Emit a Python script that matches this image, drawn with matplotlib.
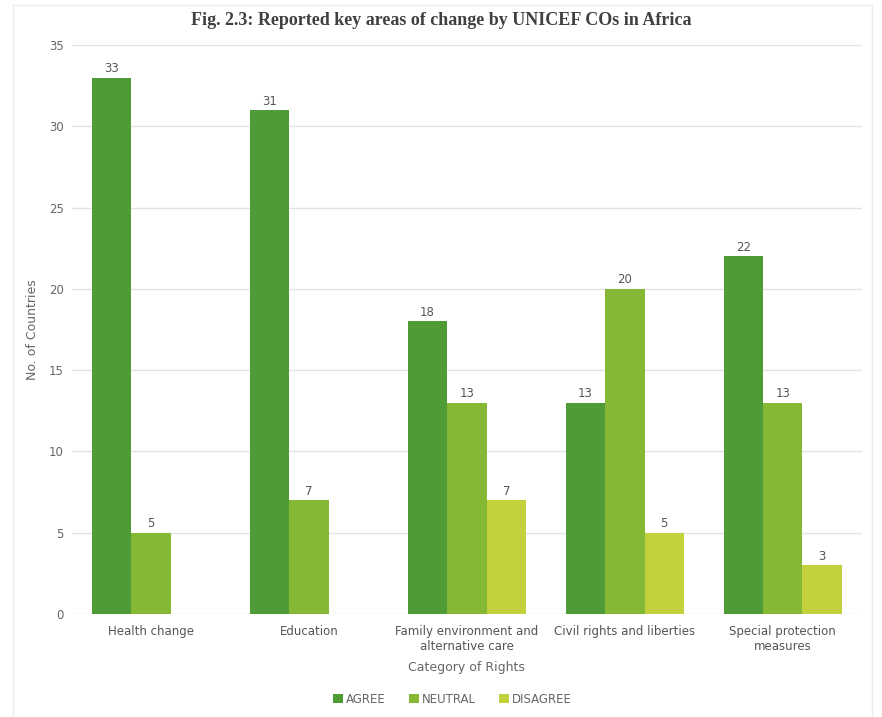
import matplotlib
matplotlib.use("Agg")
import matplotlib.pyplot as plt
import numpy as np
from matplotlib.patches import Rectangle

categories = ["Health change", "Education", "Family environment and\nalternative care",
              "Civil rights and liberties", "Special protection\nmeasures"]
series_names = ["AGREE", "NEUTRAL", "DISAGREE"]
agree = [33, 31, 18, 13, 22]
neutral = [5, 7, 13, 20, 13]
disagree = [0, 0, 7, 5, 3]
y_ticks = [0, 5, 10, 15, 20, 25, 30, 35]

colors = ["#4f9c36", "#85b834", "#c3d13c"]
label_color = "#666666"

fig = plt.figure(figsize=(8.82, 7.17), dpi=100)
ax = fig.add_axes([0.0816, 0.1437, 0.8954, 0.7935])

x = np.arange(len(categories))
width = 0.25
for i, (vals, name, col) in enumerate(zip([agree, neutral, disagree], series_names, colors)):
    pos = x + (i - 1) * width
    bars = ax.bar(pos, vals, width=width, color=col, label=name, zorder=3)
    for b, v in zip(bars, vals):
        if v > 0:
            ax.text(b.get_x() + b.get_width() / 2, v + 0.15, str(v), ha="center", va="bottom",
                    fontsize=8.5, color="#555555", zorder=4)

ax.set_xlim(-0.5, len(categories) - 0.5)
ax.set_ylim(0, 35)
ax.set_yticks(y_ticks)
ax.set_xticks(x)
ax.set_xticklabels(categories, fontsize=8.5, color="#555555", linespacing=1.2)
ax.tick_params(axis="y", length=0, labelsize=8.5, labelcolor="#666666", pad=6)
ax.tick_params(axis="x", length=0, pad=8)
ax.grid(axis="y", color="#e3e3e3", linewidth=1, zorder=0)
for s in ax.spines.values():
    s.set_visible(False)

ax.set_ylabel("No. of Countries", fontsize=9, color=label_color, labelpad=7)
ax.set_xlabel("Category of Rights", fontsize=9, color=label_color, labelpad=6)

fig.text(0.5, 0.972, "Fig. 2.3: Reported key areas of change by UNICEF COs in Africa",
         ha="center", va="center", fontsize=13, fontweight="bold",
         family="Liberation Serif", color="#404040")

leg = fig.legend(loc="center", bbox_to_anchor=(0.513, 0.025), ncol=3, frameon=False,
                 fontsize=8.5, handlelength=0.85, handleheight=0.85, handletextpad=0.2,
                 columnspacing=2.0)
for t in leg.get_texts():
    t.set_color("#666666")

# faint outer frame
fig.patches.append(Rectangle((0.015, -0.01), 0.974, 1.003, transform=fig.transFigure,
                             fill=False, edgecolor="#ececec", linewidth=1))

fig.savefig("out.png", dpi=100, facecolor="white")
